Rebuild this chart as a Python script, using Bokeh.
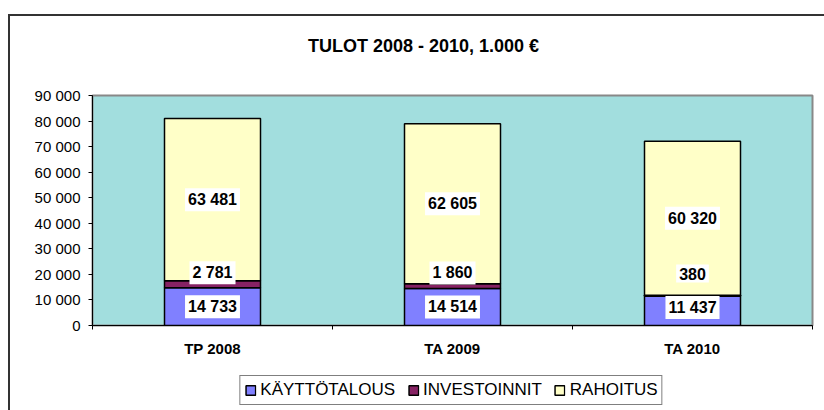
from bokeh.plotting import figure
from bokeh.layouts import column
from bokeh.models import (ColumnDataSource, FixedTicker, Label, Legend, LegendItem,
                          InlineStyleSheet)
from bokeh.embed import file_html
from bokeh.resources import INLINE

# ---- data ----
categories = ["TP 2008", "TA 2009", "TA 2010"]
series = ["KÄYTTÖTALOUS", "INVESTOINNIT", "RAHOITUS"]
kayttotalous = [14733, 14514, 11437]
investoinnit = [2781, 1860, 380]
rahoitus = [63481, 62605, 60320]
colors = ["#8080FF", "#862263", "#FFFFC8"]
y_ticks = [0, 10000, 20000, 30000, 40000, 50000, 60000, 70000, 80000, 90000]
y_tick_labels = ["0", "10 000", "20 000", "30 000", "40 000", "50 000",
                 "60 000", "70 000", "80 000", "90 000"]
title_text = "TULOT 2008 - 2010, 1.000 €"

FONT = "Liberation Sans"
Y_MIN, Y_MAX = 0, 90000
W = 824
TITLE_H, MAIN_H, LEG_H = 60, 300, 50
B_LEFT, B_RIGHT, B_TOP, B_BOTTOM = 92, 12, 35, 35
FRAME_H = MAIN_H - B_TOP - B_BOTTOM
LINE = "#333333"

def frame_css(top_line):
    parts = []
    if top_line:
        parts.append(f"linear-gradient({LINE}, {LINE}) 8px 14px / 100% 2px no-repeat")
        parts.append(f"linear-gradient({LINE}, {LINE}) 8px 14px / 2px 100% no-repeat")
    else:
        parts.append(f"linear-gradient({LINE}, {LINE}) 8px 0px / 2px 100% no-repeat")
    parts.append("white")
    return [InlineStyleSheet(css=":host { background: " + ", ".join(parts) + "; }")]

def fmt(v):
    return f"{v:,}".replace(",", " ")

keys = ["kaytto", "invest", "rahoitus"]
src = ColumnDataSource(dict(x=list(range(len(categories))),
                            kaytto=kayttotalous, invest=investoinnit, rahoitus=rahoitus))

# ---------------- title strip ----------------
tf = figure(width=W, height=TITLE_H, x_range=(0, W), y_range=(0, TITLE_H),
            x_axis_location=None, y_axis_location=None, min_border=0,
            output_backend="svg", toolbar_location=None)
tf.frame_align = False
tf.stylesheets = frame_css(True)
tf.background_fill_color = None
tf.border_fill_alpha = 0
tf.outline_line_color = None
tf.grid.visible = False
tf.add_layout(Label(x=423, y=TITLE_H - 45, text=title_text, text_align="center",
                    text_baseline="middle", text_font=FONT, text_font_style="bold",
                    text_font_size="18px", text_color="black"))

# ---------------- main chart ----------------
p = figure(width=W, height=MAIN_H, x_range=(-0.5, len(categories) - 0.5),
           y_range=(Y_MIN, Y_MAX), output_backend="svg", toolbar_location=None,
           min_border_left=B_LEFT, min_border_right=B_RIGHT,
           min_border_top=B_TOP, min_border_bottom=B_BOTTOM)
p.stylesheets = frame_css(False)
p.background_fill_color = "#A2DEDE"
p.border_fill_alpha = 0
p.outline_line_color = "#888888"
p.outline_line_width = 2
p.xgrid.visible = False
p.ygrid.visible = False

renderers = p.vbar_stack(keys, x="x", width=0.4, source=src, fill_color=colors,
                         line_color="black", line_width=1.5)

xa = p.xaxis[0]
xa.ticker = FixedTicker(ticks=list(range(len(categories))),
                        minor_ticks=[i - 0.5 for i in range(len(categories) + 1)])
xa.major_label_overrides = {i: c for i, c in enumerate(categories)}
xa.major_tick_out = 0
xa.major_tick_in = 0
xa.minor_tick_out = 4
xa.minor_tick_in = 0
xa.minor_tick_line_color = "black"
xa.axis_line_color = "black"
xa.major_label_text_font = FONT
xa.major_label_text_font_style = "bold"
xa.major_label_text_font_size = "15px"
xa.major_label_text_color = "black"
xa.major_label_standoff = 10

ya = p.yaxis[0]
ya.ticker = FixedTicker(ticks=y_ticks, minor_ticks=[])
ya.major_label_overrides = {t: l for t, l in zip(y_ticks, y_tick_labels)}
ya.major_tick_out = 4
ya.major_tick_in = 0
ya.major_tick_line_color = "black"
ya.axis_line_color = "black"
ya.major_label_text_font = FONT
ya.major_label_text_font_size = "15px"
ya.major_label_text_color = "black"
ya.major_label_standoff = 8

# data labels (pushed apart so they do not overlap)
ppu = FRAME_H / (Y_MAX - Y_MIN)
gap = 34 / ppu
bottom_clamp = 18 / ppu
stack = [kayttotalous, investoinnit, rahoitus]
for i in range(len(categories)):
    base = 0
    prev = None
    for vals in stack:
        v = vals[i]
        c = base + v / 2
        c = max(c, bottom_clamp) if prev is None else max(c, prev + gap)
        p.add_layout(Label(x=i, y=c, text=fmt(v), text_align="center", text_baseline="middle",
                           text_font=FONT, text_font_style="bold", text_font_size="16px",
                           text_color="black", background_fill_color="white", padding=3))
        prev = c
        base += v

# ---------------- legend strip ----------------
# same stacked series, hidden; the legend takes its swatches from these renderers
lf = figure(width=W, height=LEG_H, x_range=(-0.5, len(categories) - 0.5), y_range=(Y_MIN, Y_MAX),
            x_axis_location=None, y_axis_location=None,
            min_border_left=78, min_border_right=0, min_border_top=10, min_border_bottom=0,
            output_backend="svg", toolbar_location=None)
lf.frame_align = False
lf.stylesheets = frame_css(False)
lf.background_fill_color = None
lf.border_fill_alpha = 0
lf.outline_line_color = None
lf.grid.visible = False
leg_renderers = lf.vbar_stack(keys, x="x", width=0.4, source=src, fill_color=colors,
                              line_color="black", line_width=1.5)
for r in leg_renderers:
    r.visible = False
legend = Legend(items=[LegendItem(label=s, renderers=[r]) for s, r in zip(series, leg_renderers)],
                orientation="horizontal", location="center")
legend.click_policy = "none"
legend.inactive_fill_alpha = 0
legend.label_text_font = FONT
legend.label_text_font_size = "17px"
legend.label_text_color = "black"
legend.glyph_width = 12
legend.glyph_height = 12
legend.label_height = 16
legend.label_standoff = 4
legend.spacing = 12
legend.padding = 4
legend.margin = 0
legend.border_line_color = "black"
legend.border_line_width = 1
legend.background_fill_color = "white"
legend.background_fill_alpha = 1
lf.add_layout(legend)

layout = column(tf, p, lf, spacing=0)
open("out.html", "w").write(file_html(layout, INLINE))
